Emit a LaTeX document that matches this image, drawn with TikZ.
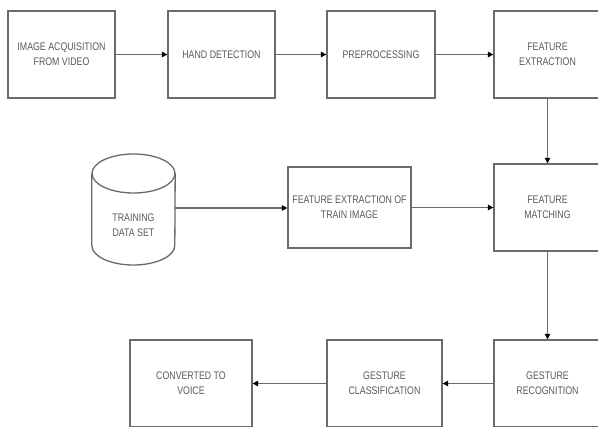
\documentclass[tikz,border=0pt]{standalone}
\usepackage{fontspec}
\setmainfont[FakeStretch=0.8]{Liberation Sans}
\usetikzlibrary{arrows.meta}
\definecolor{linegray}{HTML}{6A6A6A}
\definecolor{textgray}{HTML}{5A5A5A}
\tikzset{
  box/.style={draw=linegray, line width=1.3pt, rectangle, inner sep=1pt, align=center,
    text=textgray, font=\fontsize{11pt}{15pt}\selectfont},
  lbl/.style={inner sep=0pt, align=center, text=textgray, font=\fontsize{11pt}{15pt}\selectfont},
  conn/.style={draw=linegray, line width=1.3pt, -{Triangle[length=5.5pt,width=5.5pt,fill=black,color=black]}},
}
\begin{document}
\begin{tikzpicture}[x=1pt,y=-1pt]
\useasboundingbox[fill=white] (0,0) rectangle (598,427);
\begin{scope}
\clip (0,0) rectangle (598,427);
\node[box, minimum width=107pt, minimum height=87pt] (b1) at (61.5,54.5) {IMAGE ACQUISITION\\FROM VIDEO};
\node[box, minimum width=107pt, minimum height=87pt] (b2) at (221.5,54.5) {HAND DETECTION};
\node[box, minimum width=108pt, minimum height=87pt] (b3) at (381,54.5) {PREPROCESSING};
\node[box, minimum width=107pt, minimum height=87pt] (b4) at (547.5,54.5) {FEATURE\\EXTRACTION};
\node[box, minimum width=123pt, minimum height=81pt] (train) at (349.5,207.5) {FEATURE EXTRACTION OF\\TRAIN IMAGE};
\node[box, minimum width=107pt, minimum height=87pt] (match) at (547.5,207.5) {FEATURE\\MATCHING};
\node[box, minimum width=107pt, minimum height=87pt] (recog) at (547.5,383.5) {GESTURE\\RECOGNITION};
\node[box, minimum width=115pt, minimum height=87pt] (classif) at (384.5,383.5) {GESTURE\\CLASSIFICATION};
\node[box, minimum width=122pt, minimum height=87pt] (conv) at (191,383.5) {CONVERTED TO\\VOICE};
% cylinder
\node[inner sep=0pt, minimum width=83pt, minimum height=111pt] (cyl) at (133.5,208) {};
\draw[linegray, line width=1.3pt]
  (cyl.west |- 0,173.5) -- (cyl.west |- 0,245.5)
  arc[start angle=180, end angle=360, x radius=41.5pt, y radius=19.5pt]
  -- (cyl.east |- 0,173.5);
\draw[linegray, line width=1.3pt] (133.5,173.5) ellipse[x radius=41.5pt, y radius=19.5pt];
\node[lbl] (cyltext) at (133.5,225) {TRAINING\\DATA SET};
% connectors
\draw[conn] (b1) -- (b2);
\draw[conn] (b2) -- (b3);
\draw[conn] (b3) -- (b4);
\draw[conn] (b4) -- (match);
\draw[conn] (cyl.east) -- (cyl.east -| train.west);
\draw[conn] (train) -- (match);
\draw[conn] (match) -- (recog);
\draw[conn] (recog) -- (classif);
\draw[conn] (classif) -- (conv);
\end{scope}
\end{tikzpicture}
\end{document}
